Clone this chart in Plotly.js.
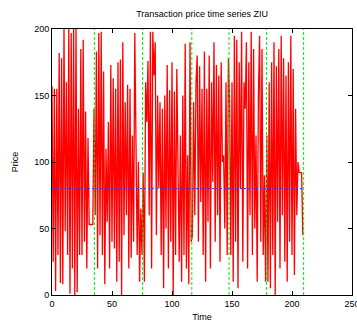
<!DOCTYPE html>
<html>
<head>
<meta charset="utf-8">
<script src="https://cdn.plot.ly/plotly-3.0.1.min.js"></script>
<style>
html,body{margin:0;padding:0;background:#fff;}
#chart{width:357px;height:322px;}
</style>
</head>
<body>
<div id="chart"></div>
<script>
// Transaction prices per trading period (time steps of 1)
const period1 = [157, 25, 155, 3, 155, 30, 182, 9, 178, 8, 200, 48, 160, 30, 200, 1, 197, 20, 200, 0, 200, 2, 140, 30, 185, 30, 192, 40, 138, 20, 118];
const flat1 = [53, 53, 53, 53];
const period2 = [140, 60, 183, 20, 197, 45, 198, 30, 168, 8, 110, 55, 130, 20, 173, 40, 163, 35, 155, 10, 175, 25, 177, 0, 190, 45, 145, 60, 158, 20, 155, 28, 120, 40, 197, 90, 30, 100, 10, 65, 30];
const period3 = [92, 10, 160, 130, 176, 60, 198, 20, 198, 165, 190, 45, 150, 80, 145, 30, 140, 5, 150, 50, 173, 20, 154, 40, 175, 0, 153, 30, 170, 90, 25, 120, 10, 150, 30, 189, 20, 105, 8, 190, 40];
const period4 = [45, 145, 60, 160, 180, 40, 172, 70, 155, 30, 183, 10, 155, 55, 180, 20, 160, 85, 190, 40, 173, 60, 165, 25, 175, 100, 105, 50, 160, 30, 178];
const period5 = [145, 30, 160, 10, 195, 40, 192, 5, 175, 80, 198, 25, 160, 140, 190, 20, 175, 60, 198, 30, 185, 50, 120, 10, 150, 195, 40, 185, 30, 90, 10];
const period6 = [120, 10, 160, 5, 175, 30, 190, 0, 172, 55, 185, 20, 195, 60, 178, 25, 165, 10, 175, 40, 195, 30, 170, 15, 140, 60, 100, 92, 92, 92, 45];

const prices = [].concat(period1, flat1, period2, period3, period4, period5, period6);
const times = prices.map((_, i) => i);

// Period boundaries (green dashed) and equilibrium price (blue dotted)
const periodEnds = [35.3, 75.5, 116.5, 147.5, 178.7, 209.7];
const equilibriumPrice = 80;
const equilibriumEnd = 209.7;

const xTicks = [0, 50, 100, 150, 200, 250];
const yTicks = [0, 50, 100, 150, 200];

const font = {family: '"Liberation Sans", Arial, Helvetica, sans-serif', size: 9, color: '#000'};

const traces = [{
  x: times, y: prices, type: 'scatter', mode: 'lines',
  line: {color: '#ff0000', width: 1.3},
  hoverinfo: 'skip', showlegend: false
}];

const shapes = periodEnds.map(t => ({
  type: 'line', xref: 'x', yref: 'y', x0: t, x1: t, y0: 0, y1: 200,
  line: {color: '#00ee00', width: 1, dash: '3px,2px'}, layer: 'above'
}));
shapes.push({
  type: 'line', xref: 'x', yref: 'y', x0: 0, x1: equilibriumEnd,
  y0: equilibriumPrice, y1: equilibriumPrice,
  line: {color: '#3333ff', width: 1, dash: '2px,2px'}, layer: 'above'
});

const axisCommon = {
  showgrid: false, zeroline: false, showline: true, mirror: 'ticks',
  linecolor: '#000', linewidth: 1, ticks: 'inside', ticklen: 4,
  tickcolor: '#000', tickfont: font, ticklabeloverflow: 'allow'
};

const layout = {
  width: 357, height: 322,
  margin: {l: 52, r: 5, t: 29, b: 27},
  paper_bgcolor: '#fff', plot_bgcolor: '#fff',
  font: font,
  title: {text: 'Transaction price time series ZIU', font: font, x: 0.566, xanchor: 'center', y: 0.957, yanchor: 'middle'},
  xaxis: Object.assign({}, axisCommon, {
    range: [0, 250], tickvals: xTicks, ticktext: xTicks.map(String),
    title: {text: 'Time', font: font, standoff: 5}
  }),
  yaxis: Object.assign({}, axisCommon, {
    range: [0, 200], tickvals: yTicks, ticktext: yTicks.map(String),
    title: {text: 'Price', font: font, standoff: 14}
  }),
  shapes: shapes
};

Plotly.newPlot('chart', traces, layout, {staticPlot: true, displayModeBar: false});
</script>
</body>
</html>
